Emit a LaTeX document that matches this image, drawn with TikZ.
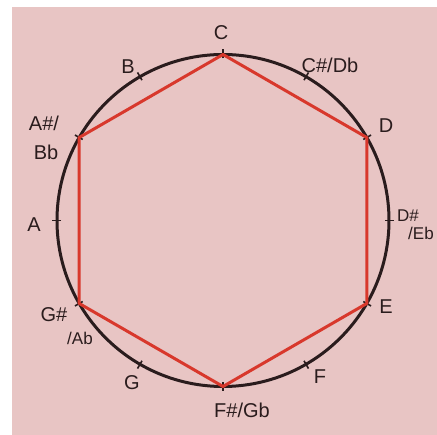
\documentclass[tikz,border=0pt]{standalone}
\usepackage{fontspec}
\setmainfont{Liberation Sans}
\usetikzlibrary{calc}
\definecolor{paper}{HTML}{E8C5C4}
\definecolor{ink}{HTML}{2A1C1D}
\definecolor{redink}{HTML}{D8382C}
\tikzset{
  notelabel/.style={text=ink, inner sep=0pt, font=\fontsize{20}{20}\selectfont},
  smalllabel/.style={notelabel, font=\fontsize{17}{17}\selectfont},
  rim/.style={draw=ink, line width=3pt},
  notetick/.style={draw=ink, line width=1.6pt},
  wholetone/.style={draw=redink, line width=3pt, line join=round},
}
\begin{document}
\begin{tikzpicture}[x=1pt,y=1pt]
\useasboundingbox (0,0) rectangle (437,435);
\fill[white] (0,0) rectangle (437,435);
\fill[paper] (12,0) rectangle (437,428);
\coordinate (O) at (223,214.5);
\def\R{166}
% note positions on the circle
\coordinate (nC)  at ($(O)+(90:\R)$);
\coordinate (nCs) at ($(O)+(60:\R)$);
\coordinate (nD)  at ($(O)+(30:\R)$);
\coordinate (nDs) at ($(O)+(0:\R)$);
\coordinate (nE)  at ($(O)+(-30:\R)$);
\coordinate (nF)  at ($(O)+(-60:\R)$);
\coordinate (nFs) at ($(O)+(-90:\R)$);
\coordinate (nG)  at ($(O)+(-120:\R)$);
\coordinate (nGs) at ($(O)+(-150:\R)$);
\coordinate (nA)  at ($(O)+(180:\R)$);
\coordinate (nAs) at ($(O)+(150:\R)$);
\coordinate (nB)  at ($(O)+(120:\R)$);
% circle
\draw[rim] (O) circle (\R);
% ticks
\foreach \a in {90,60,30,0,-30,-60,-90,-120,-150,180,150,120}{
  \draw[notetick] ($(O)+(\a:\R-4)$) -- ($(O)+(\a:\R+5)$);
}
% whole-tone hexagon
\draw[wholetone] (nC) -- (nD) -- (nE) -- (nFs) -- (nGs) -- (nAs) -- cycle;
% labels
\node[notelabel] (lC) at (221,402) {C};
\node[notelabel] (lCs) at (330,370) {C\#/Db};
\node[notelabel] (lD) at (386,309) {D};
\node[smalllabel] (lDs1) at (408,219) {D\#};
\node[smalllabel] (lDs2) at (421,202) {/Eb};
\node[notelabel] (lE) at (386,128) {E};
\node[notelabel] (lF) at (320,58) {F};
\node[notelabel] (lFs) at (242,25) {F\#/Gb};
\node[notelabel] (lG) at (132,52) {G};
\node[notelabel] (lGs1) at (54,120) {G\#};
\node[smalllabel] (lGs2) at (80,97) {/Ab};
\node[notelabel] (lA) at (34,210) {A};
\node[notelabel] (lAs1) at (44,312) {A\#/};
\node[notelabel] (lAs2) at (46,283) {Bb};
\node[notelabel] (lB) at (128,368) {B};
\end{tikzpicture}
\end{document}
